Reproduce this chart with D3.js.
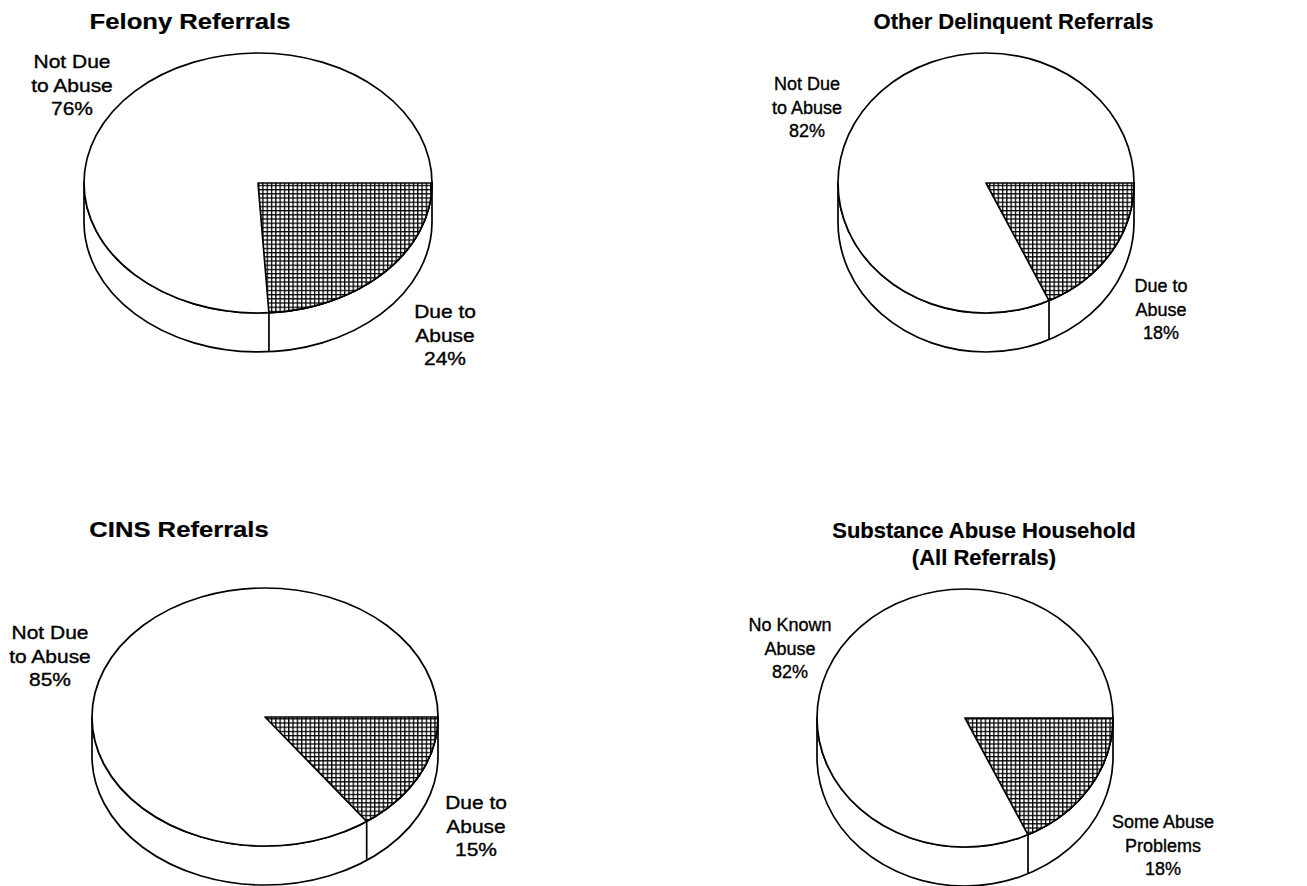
<!DOCTYPE html>
<html><head><meta charset="utf-8">
<script src="https://cdn.jsdelivr.net/npm/d3@7"></script>
<style>body{margin:0;background:#fff}svg{display:block}</style>
</head><body>
<svg id="c" width="1307" height="886"></svg>
<script>
// ---- data ----
const titles = [["Felony Referrals"], ["Other Delinquent Referrals"], ["CINS Referrals"], ["Substance Abuse Household", "(All Referrals)"]];
const abuseShare = [24, 18, 15, 18];
const otherShare = [76, 82, 85, 82];
const abuseLabels = [["Due to", "Abuse"], ["Due to", "Abuse"], ["Due to", "Abuse"], ["Some Abuse", "Problems"]];
const otherLabels = [["Not Due", "to Abuse"], ["Not Due", "to Abuse"], ["Not Due", "to Abuse"], ["No Known", "Abuse"]];

// ---- layout (left column of the scan is stretched horizontally) ----
const layout = [
  {cx: 258, cy: 183, rx: 174, ry: 130, d: 39, sx: 1.165, tx: 190, ty: 29, ox: 72, oy: 68, ax: 445, ay: 318},
  {cx: 986, cy: 183, rx: 148, ry: 130, d: 39, sx: 1, tx: 1013.5, ty: 29, ox: 807, oy: 90, ax: 1161, ay: 292},
  {cx: 265, cy: 717, rx: 173, ry: 129, d: 39, sx: 1.165, tx: 179, ty: 537, ox: 50, oy: 639, ax: 476, ay: 809},
  {cx: 965, cy: 718, rx: 148, ry: 129, d: 39, sx: 1, tx: 984, ty: 538, ox: 790, oy: 631, ax: 1163, ay: 828}
];
const lineH = 23.5;
const FONT = "'Liberation Sans', Arial, Helvetica, sans-serif";

const svg = d3.select("#c");
const defs = svg.append("defs");
const pat = defs.append("pattern").attr("id", "hatch")
  .attr("patternUnits", "userSpaceOnUse").attr("width", 4.3).attr("height", 4.2);
pat.append("rect").attr("width", 4.3).attr("height", 4.2).attr("fill", "#fff");
pat.append("path").attr("d", "M0,0.65H4.3M0.65,0V4.2").attr("stroke", "#000").attr("stroke-width", 1.3);

const pie = d3.pie().sort(null).value(d => d)
  .startAngle(Math.PI / 2).endAngle(Math.PI / 2 + 2 * Math.PI);

layout.forEach((L, i) => {
  const g = svg.append("g");
  const arcs = pie([abuseShare[i], otherShare[i]]);
  const pt = (a, dy = 0) => {
    const t = a - Math.PI / 2;
    return [L.cx + L.rx * Math.cos(t), L.cy + dy + L.ry * Math.sin(t)];
  };
  const applyStroke = sel => sel.attr("stroke", "#000").attr("stroke-width", 1.7).attr("stroke-linejoin", "round");

  // side wall (front half)
  const side = `M${L.cx + L.rx},${L.cy}V${L.cy + L.d}` +
    `A${L.rx},${L.ry} 0 0 1 ${L.cx - L.rx},${L.cy + L.d}` +
    `V${L.cy}A${L.rx},${L.ry} 0 0 0 ${L.cx + L.rx},${L.cy}Z`;
  applyStroke(g.append("path").attr("d", side).attr("fill", "#fff"));

  // top ellipse
  applyStroke(g.append("ellipse").attr("cx", L.cx).attr("cy", L.cy)
    .attr("rx", L.rx).attr("ry", L.ry).attr("fill", "#fff"));

  // shaded slice
  const s = arcs[0];
  const p0 = pt(s.startAngle), p1 = pt(s.endAngle);
  const large = (s.endAngle - s.startAngle) > Math.PI ? 1 : 0;
  const slice = `M${L.cx},${L.cy}L${p0[0]},${p0[1]}A${L.rx},${L.ry} 0 ${large} 1 ${p1[0]},${p1[1]}Z`;
  applyStroke(g.append("path").attr("d", slice).attr("fill", "url(#hatch)"));

  // vertical edge on the side at the slice boundary
  const te = s.endAngle - Math.PI / 2;
  if (te > 0 && te < Math.PI) {
    const q = pt(s.endAngle, L.d);
    applyStroke(g.append("line").attr("x1", p1[0]).attr("y1", p1[1]).attr("x2", q[0]).attr("y2", q[1]));
  }

  const txt = (x, y, t, size, bold) =>
    g.append("text").attr("transform", `translate(${x},${y}) scale(${L.sx},1)`)
      .attr("text-anchor", "middle").attr("font-family", FONT)
      .attr("font-weight", bold ? "bold" : "normal").attr("font-size", size)
      .attr("fill", "#000").attr("stroke", "#000").attr("stroke-width", bold ? 0.2 : 0.35)
      .text(t);

  // title
  titles[i].forEach((t, k) => txt(L.tx, L.ty + k * 27, t, 22, true));

  // labels
  const lab = (lines, pct, x, y) => {
    lines.concat([pct + "%"]).forEach((t, k) => txt(x, y + k * lineH, t, 18, false));
  };
  lab(otherLabels[i], arcs[1].data, L.ox, L.oy);
  lab(abuseLabels[i], arcs[0].data, L.ax, L.ay);
});
</script>
</body></html>
